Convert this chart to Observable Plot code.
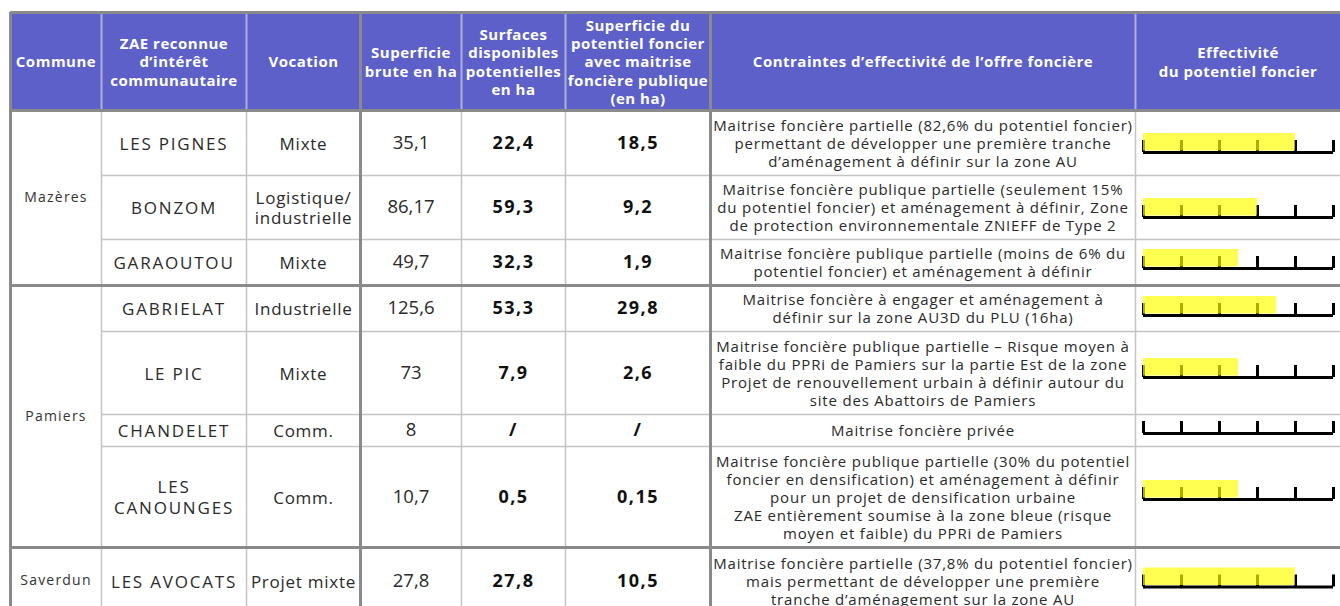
<!DOCTYPE html>
<html><head><meta charset="utf-8">
<script src="https://cdn.jsdelivr.net/npm/d3@7"></script>
<script src="https://cdn.jsdelivr.net/npm/@observablehq/plot@0.6"></script>
<style>
html,body{margin:0;padding:0;background:#fff;}
#wrap{position:relative;width:1340px;height:606px;overflow:hidden;background:#fff;}
#wrap svg{position:absolute;left:0;top:0;}
</style></head><body><div id="wrap"></div>
<script>
// ---------- DATA ----------
const headers = [
  "Commune",
  "ZAE reconnue\nd’intérêt\ncommunautaire",
  "Vocation",
  "Superficie\nbrute en ha",
  "Surfaces\ndisponibles\npotentielles\nen ha",
  "Superficie du\npotentiel foncier\navec maitrise\nfoncière publique\n(en ha)",
  "Contraintes d’effectivité de l’offre foncière",
  "Effectivité\ndu potentiel foncier"
];
const communeOf = ["Mazères","Mazères","Mazères","Pamiers","Pamiers","Pamiers","Pamiers","Saverdun"];
const zae = ["LES PIGNES","BONZOM","GARAOUTOU","GABRIELAT","LE PIC","CHANDELET","LES\nCANOUNGES","LES AVOCATS"];
const vocation = ["Mixte","Logistique/\nindustrielle","Mixte","Industrielle","Mixte","Comm.","Comm.","Projet mixte"];
const superficieBrute = [35.1, 86.17, 49.7, 125.6, 73, 8, 10.7, 27.8];
const surfacesDisponibles = [22.4, 59.3, 32.3, 53.3, 7.9, null, 0.5, 27.8];
const potentielPublic = [18.5, 9.2, 1.9, 29.8, 2.6, null, 0.15, 10.5];
const contraintes = [
  "Maitrise foncière partielle (82,6% du potentiel foncier)\npermettant de développer une première tranche\nd’aménagement à définir sur la zone AU",
  "Maitrise foncière publique partielle (seulement 15%\ndu potentiel foncier) et aménagement à définir, Zone\nde protection environnementale ZNIEFF de Type 2",
  "Maitrise foncière publique partielle (moins de 6% du\npotentiel foncier) et aménagement à définir",
  "Maitrise foncière à engager et aménagement à\ndéfinir sur la zone AU3D du PLU (16ha)",
  "Maitrise foncière publique partielle – Risque moyen à\nfaible du PPRi de Pamiers sur la partie Est de la zone\nProjet de renouvellement urbain à définir autour du\nsite des Abattoirs de Pamiers",
  "Maitrise foncière privée",
  "Maitrise foncière publique partielle (30% du potentiel\nfoncier en densification) et aménagement à définir\npour un projet de densification urbaine\nZAE entièrement soumise à la zone bleue (risque\nmoyen et faible) du PPRi de Pamiers",
  "Maitrise foncière partielle (37,8% du potentiel foncier)\nmais permettant de développer une première\ntranche d’aménagement sur la zone AU"
];
const effectivite = [4, 3, 2.5, 3.5, 2.5, 0, 2.5, 4];
const gaugeTicks = [0, 1, 2, 3, 4, 5];

// ---------- LAYOUT ----------
const W = 1340, H = 606;
const colEdges = [10, 101, 246, 360, 461, 565, 710, 1135, 1340];
const headerTop = 12, headerBottom = 110;
const rowEdges = [110, 175, 239, 285, 331, 414, 446, 547, 614];
const gaugeOffset = [9.5, 10, 6, 7, 4.5, 3, 2.5, 6];
const gaugeRange = [1143, 1333];
const FONT = "Open Sans";
const headerFill = "#5c60c8";
const textColor = "#2a2a2a";

const colCenter = j => (colEdges[j] + colEdges[j + 1]) / 2;
const fmt = v => v == null ? "/" : v.toLocaleString("fr-FR");

const rows = zae.map((z, i) => ({
  i, commune: communeOf[i], zae: z, vocation: vocation[i],
  brute: fmt(superficieBrute[i]), dispo: fmt(surfacesDisponibles[i]),
  pub: fmt(potentielPublic[i]), contrainte: contraintes[i], eff: effectivite[i],
  cy: (rowEdges[i] + rowEdges[i + 1]) / 2,
  base: (rowEdges[i] + rowEdges[i + 1]) / 2 + gaugeOffset[i]
}));

// commune spans
const spans = [];
rows.forEach((r, i) => {
  const last = spans[spans.length - 1];
  if (last && last.commune === r.commune) last.end = i;
  else spans.push({commune: r.commune, start: i, end: i});
});
spans.forEach(s => s.cy = (rowEdges[s.start] + rowEdges[s.end + 1]) / 2);

const thickY = [headerTop, headerBottom, ...spans.slice(1).map(s => rowEdges[s.start])];
const thinY = rowEdges.slice(1, -1).filter(y => !thickY.includes(y));
const thickX = [colEdges[0], colEdges[3], colEdges[6]];
const thinX = [colEdges[1], colEdges[2], colEdges[4], colEdges[5], colEdges[7]];

const pixelScales = {
  x: {type: "linear", domain: [0, W], range: [0, W], axis: null},
  y: {type: "linear", domain: [0, H], range: [0, H], axis: null}
};

// text marks in order, with letter-spacing applied after render
const textSpecs = [
  {ls: 0.5, mark: Plot.text(headers, {x: (d, j) => colCenter(j), y: (headerTop + headerBottom) / 2, text: d => d,
      fill: "white", fontWeight: 700, fontSize: 15, lineHeight: 1.22, fontFamily: FONT})},
  {ls: 1.2, mark: Plot.text(spans, {x: colCenter(0), y: "cy", text: "commune", fill: "#333", fontSize: 14, fontFamily: FONT})},
  {ls: 1.8, mark: Plot.text(rows, {x: colCenter(1), y: "cy", text: "zae", fill: textColor, fontSize: 17, lineHeight: 1.2, fontFamily: FONT})},
  {ls: 0.75, mark: Plot.text(rows, {x: colCenter(2), y: "cy", text: "vocation", fill: textColor, fontSize: 17, lineHeight: 1.2, fontFamily: FONT})},
  {ls: 0, mark: Plot.text(rows, {x: colCenter(3), y: "cy", text: "brute", fill: textColor, fontSize: 18.5, fontFamily: FONT})},
  {ls: 1.5, mark: Plot.text(rows, {x: colCenter(4), y: "cy", text: "dispo", fill: "#111", fontWeight: 700, fontSize: 18, fontFamily: FONT})},
  {ls: 1.5, mark: Plot.text(rows, {x: colCenter(5), y: "cy", text: "pub", fill: "#111", fontWeight: 700, fontSize: 18, fontFamily: FONT})},
  {ls: 0.8, mark: Plot.text(rows, {x: colCenter(6), y: "cy", text: "contrainte", fill: textColor, fontSize: 15, lineHeight: 1.2, fontFamily: FONT})}
];

const table = Plot.plot({
  width: W, height: H, marginTop: 0, marginRight: 0, marginBottom: 0, marginLeft: 0,
  style: {background: "transparent", overflow: "hidden"},
  ...pixelScales,
  marks: [
    Plot.rect([0], {x1: colEdges[0], x2: W, y1: headerTop, y2: headerBottom, fill: headerFill}),
    Plot.ruleY(thinY, {x1: colEdges[1], x2: W, stroke: "#c4c4c4", strokeWidth: 1.5}),
    Plot.ruleX(thinX, {y1: headerBottom, y2: H + 20, stroke: "#c4c4c4", strokeWidth: 1.5}),
    Plot.ruleX(thinX, {y1: headerTop, y2: headerBottom, stroke: "#aeb0d8", strokeWidth: 2}),
    Plot.ruleY(thickY, {x1: colEdges[0], x2: W, stroke: "#8a8a8a", strokeWidth: 3}),
    Plot.ruleX(thickX, {y1: headerTop, y2: H + 20, stroke: "#8a8a8a", strokeWidth: 3}),
    ...textSpecs.map(s => s.mark)
  ]
});

const gauges = Plot.plot({
  width: W, height: H, marginTop: 0, marginRight: 0, marginBottom: 0, marginLeft: 0,
  style: {background: "transparent", overflow: "hidden"},
  x: {type: "linear", domain: [0, 5], range: gaugeRange, axis: null},
  y: {type: "linear", domain: [0, H], range: [0, H], axis: null},
  marks: [
    Plot.ruleY(rows, {y: "base", x1: 0, x2: 5, stroke: "black", strokeWidth: 3}),
    Plot.ruleX(rows.flatMap(r => gaugeTicks.map(t => ({t, base: r.base}))),
      {x: "t", y1: d => d.base, y2: d => d.base - 12, stroke: "black", strokeWidth: 3}),
    Plot.rect(rows.filter(r => r.eff > 0), {x1: 0, x2: "eff", y1: d => d.base - 19, y2: d => d.base - 1.5,
      fill: "#ffff00", fillOpacity: 0.68})
  ]
});

const wrap = document.getElementById("wrap");
wrap.appendChild(table);
wrap.appendChild(gauges);

// letter spacing (wider, Montserrat-like set)
const textGroups = table.querySelectorAll('g[aria-label="text"]');
textGroups.forEach((g, k) => {
  const ls = textSpecs[k] ? textSpecs[k].ls : 0;
  if (ls) g.querySelectorAll("text").forEach(t => t.setAttribute("letter-spacing", ls + "px"));
});
</script></body></html>
